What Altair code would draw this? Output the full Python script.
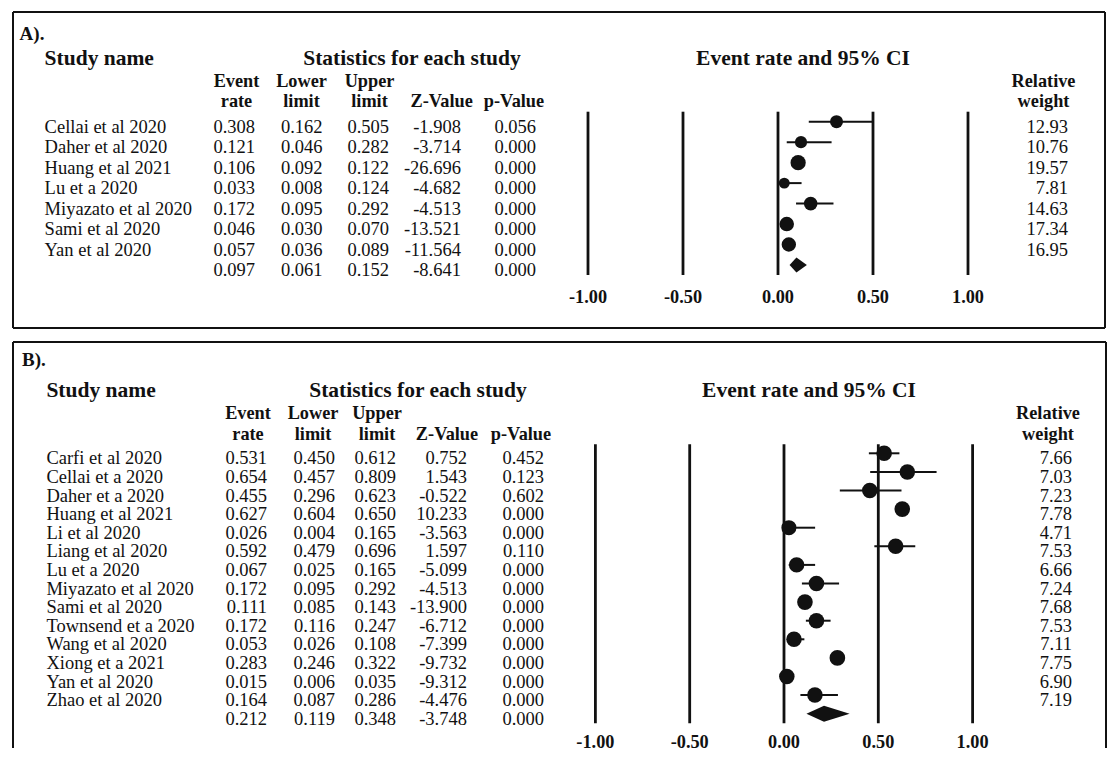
import altair as alt
import pandas as pd

FONT = "Liberation Serif"
INK = "#111111"

# ---------------- data: panel A ----------------
a_names = ["Cellai et al 2020", "Daher et al 2020", "Huang et al 2021", "Lu et a 2020",
           "Miyazato et al 2020", "Sami et al 2020", "Yan et al 2020"]
a_rate = [0.308, 0.121, 0.106, 0.033, 0.172, 0.046, 0.057]
a_lower = [0.162, 0.046, 0.092, 0.008, 0.095, 0.030, 0.036]
a_upper = [0.505, 0.282, 0.122, 0.124, 0.292, 0.070, 0.089]
a_z = [-1.908, -3.714, -26.696, -4.682, -4.513, -13.521, -11.564]
a_p = [0.056, 0.000, 0.000, 0.000, 0.000, 0.000, 0.000]
a_weight = [12.93, 10.76, 19.57, 7.81, 14.63, 17.34, 16.95]
a_summary = {"rate": 0.097, "lower": 0.061, "upper": 0.152, "z": -8.641, "p": 0.000}

# ---------------- data: panel B ----------------
b_names = ["Carfi et al 2020", "Cellai et a 2020", "Daher et a 2020", "Huang et al 2021",
           "Li et al 2020", "Liang et al 2020", "Lu et a 2020", "Miyazato et al 2020",
           "Sami et al 2020", "Townsend et a 2020", "Wang et al 2020", "Xiong et a 2021",
           "Yan et al 2020", "Zhao et al 2020"]
b_rate = [0.531, 0.654, 0.455, 0.627, 0.026, 0.592, 0.067, 0.172, 0.111, 0.172, 0.053, 0.283, 0.015, 0.164]
b_lower = [0.450, 0.457, 0.296, 0.604, 0.004, 0.479, 0.025, 0.095, 0.085, 0.116, 0.026, 0.246, 0.006, 0.087]
b_upper = [0.612, 0.809, 0.623, 0.650, 0.165, 0.696, 0.165, 0.292, 0.143, 0.247, 0.108, 0.322, 0.035, 0.286]
b_z = [0.752, 1.543, -0.522, 10.233, -3.563, 1.597, -5.099, -4.513, -13.900, -6.712, -7.399, -9.732, -9.312, -4.476]
b_p = [0.452, 0.123, 0.602, 0.000, 0.000, 0.110, 0.000, 0.000, 0.000, 0.000, 0.000, 0.000, 0.000, 0.000]
b_weight = [7.66, 7.03, 7.23, 7.78, 4.71, 7.53, 6.66, 7.24, 7.68, 7.53, 7.11, 7.75, 6.90, 7.19]
b_summary = {"rate": 0.212, "lower": 0.119, "upper": 0.348, "z": -3.748, "p": 0.000}

tick_values = [-1.0, -0.5, 0.0, 0.5, 1.0]

# ---------------- layout (pixels within each panel) ----------------
LAYOUT_A = dict(
    tag="A).", W=1092, H=316, bottom_border=True,
    x0=765, ux=190, y0=109.7, dy=20.47, tdy=11.3,
    tag_xy=(6.6, 28), head_y=53, sub1_y=75.3, sub2_y=94.7,
    name_x=31.6, stats_x=399, erci_x=790, rel_x=1030.5,
    num_x=[242, 309.5, 376, 448, 523], hdr_x=[223.5, 288.5, 356.5, 428.6, 501],
    w_x=1055, line_top=99.7, line_bot=263, tick_y=291.3,
    dot_range=[45, 232], diamond_h=7.5,
)
LAYOUT_B = dict(
    tag="B).", W=1093, H=406, bottom_border=False,
    x0=771, ux=188.6, y0=111.3, dy=18.6, tdy=11,
    tag_xy=(9, 23.5), head_y=54.7, sub1_y=77, sub2_y=98,
    name_x=33.4, stats_x=405, erci_x=796, rel_x=1035,
    num_x=[254, 322, 383, 454, 531], hdr_x=[235, 300, 364, 434, 508],
    w_x=1059, line_top=102.3, line_bot=381.3, tick_y=405.7,
    dot_range=[200, 245], diamond_h=8,
)

dummy = pd.DataFrame({"k": [0]})


def label(text, x, y, size, bold=True, align="left"):
    return alt.Chart(dummy).mark_text(
        text=text, align=align, baseline="alphabetic", font=FONT, fontSize=size,
        fontWeight="bold" if bold else "normal", color=INK,
    ).encode(x=alt.value(x), y=alt.value(y))


def panel(names, rate, lower, upper, z, p, weight, summary, L):
    n = len(names)
    W, H = L["W"], L["H"]
    xs = alt.Scale(domain=[-L["x0"] / L["ux"], (W - L["x0"]) / L["ux"]], nice=False, zero=False)
    ys = alt.Scale(domain=[-L["y0"] / L["dy"], (H - L["y0"]) / L["dy"]], nice=False,
                   zero=False, reverse=True)

    def X(f):
        return alt.X(f, scale=xs, axis=None)

    def Y(f):
        return alt.Y(f, scale=ys, axis=None)

    rows = pd.DataFrame({
        "row": list(range(n + 1)),
        "name": names + [""],
        "rate_s": [f"{v:.3f}" for v in rate + [summary["rate"]]],
        "lower_s": [f"{v:.3f}" for v in lower + [summary["lower"]]],
        "upper_s": [f"{v:.3f}" for v in upper + [summary["upper"]]],
        "z_s": [f"{v:.3f}" for v in z + [summary["z"]]],
        "p_s": [f"{v:.3f}" for v in p + [summary["p"]]],
        "w_s": [f"{v:.2f}" for v in weight] + [""],
    })
    studies = pd.DataFrame({"row": list(range(n)), "rate": rate, "lower": lower,
                            "upper": upper, "weight": weight})
    h = L["diamond_h"] / L["dy"]
    diamond = pd.DataFrame({
        "x": [summary["lower"], summary["rate"], summary["upper"]],
        "ylo": [n, n - h, n],
        "yhi": [n, n + h, n],
    })
    ticks = pd.DataFrame({"t": tick_values, "lab": [f"{t:.2f}" for t in tick_values]})

    layers = []
    # border box
    layers.append(alt.Chart(dummy).mark_rule(color=INK, strokeWidth=2).encode(
        x=alt.value(0), x2=alt.value(W), y=alt.value(0)))
    layers.append(alt.Chart(dummy).mark_rule(color=INK, strokeWidth=2).encode(
        x=alt.value(0), y=alt.value(0), y2=alt.value(H)))
    layers.append(alt.Chart(dummy).mark_rule(color=INK, strokeWidth=2).encode(
        x=alt.value(W), y=alt.value(0), y2=alt.value(H)))
    if L["bottom_border"]:
        layers.append(alt.Chart(dummy).mark_rule(color=INK, strokeWidth=2).encode(
            x=alt.value(0), x2=alt.value(W), y=alt.value(H)))

    # headers
    layers.append(label(L["tag"], L["tag_xy"][0], L["tag_xy"][1], 19))
    layers.append(label("Study name", L["name_x"], L["head_y"], 21.5))
    layers.append(label("Statistics for each study", L["stats_x"], L["head_y"], 21.5, align="center"))
    layers.append(label("Event rate and 95% CI", L["erci_x"], L["head_y"], 21.5, align="center"))
    top_lines = ["Event", "Lower", "Upper"]
    bot_lines = ["rate", "limit", "limit", "Z-Value", "p-Value"]
    for i, t in enumerate(top_lines):
        layers.append(label(t, L["hdr_x"][i], L["sub1_y"], 18.3, align="center"))
    for i, t in enumerate(bot_lines):
        layers.append(label(t, L["hdr_x"][i], L["sub2_y"], 18.3, align="center"))
    layers.append(label("Relative", L["rel_x"], L["sub1_y"], 18.3, align="center"))
    layers.append(label("weight", L["rel_x"], L["sub2_y"], 18.3, align="center"))

    # table text
    def col(field, xpx, align):
        return alt.Chart(rows).mark_text(
            align=align, baseline="alphabetic", dy=L["tdy"], font=FONT, fontSize=18.5, color=INK
        ).encode(x=alt.value(xpx), y=Y("row:Q"), text=alt.Text(f"{field}:N"))

    layers.append(col("name", L["name_x"], "left"))
    for field, xpx in zip(["rate_s", "lower_s", "upper_s", "z_s", "p_s"], L["num_x"]):
        layers.append(col(field, xpx, "right"))
    layers.append(col("w_s", L["w_x"], "right"))

    # forest plot: reference lines and tick labels
    layers.append(alt.Chart(ticks).mark_rule(color=INK, strokeWidth=2.8).encode(
        x=X("t:Q"), y=alt.value(L["line_top"]), y2=alt.value(L["line_bot"])))
    layers.append(alt.Chart(ticks).mark_text(
        align="center", baseline="alphabetic", font=FONT, fontSize=18.3, fontWeight="bold", color=INK
    ).encode(x=X("t:Q"), y=alt.value(L["tick_y"]), text="lab:N"))

    # CI lines
    layers.append(alt.Chart(studies).mark_rule(color=INK, strokeWidth=2).encode(
        x=X("lower:Q"), x2="upper:Q", y=Y("row:Q")))
    # point estimates
    layers.append(alt.Chart(studies).mark_circle(color=INK, opacity=1).encode(
        x=X("rate:Q"), y=Y("row:Q"),
        size=alt.Size("weight:Q",
                      scale=alt.Scale(domain=[0, max(weight)], range=L["dot_range"], zero=False),
                      legend=None)))
    # summary diamond
    layers.append(alt.Chart(diamond).mark_area(color=INK, orient="vertical", opacity=1).encode(
        x=X("x:Q"), y=Y("ylo:Q"), y2="yhi:Q"))

    return alt.layer(*layers).properties(width=W, height=H)


pa = panel(a_names, a_rate, a_lower, a_upper, a_z, a_p, a_weight, a_summary, LAYOUT_A)
pb = panel(b_names, b_rate, b_lower, b_upper, b_z, b_p, b_weight, b_summary, LAYOUT_B)

chart = (
    alt.vconcat(pa, pb, spacing=12)
    .resolve_scale(x="independent", y="independent", size="independent")
    .properties(padding={"left": 4, "top": 3, "right": 0, "bottom": 0}, background="white")
    .configure_view(strokeWidth=0)
)

chart.save("out.html", embed_options={"renderer": "svg", "actions": False})
